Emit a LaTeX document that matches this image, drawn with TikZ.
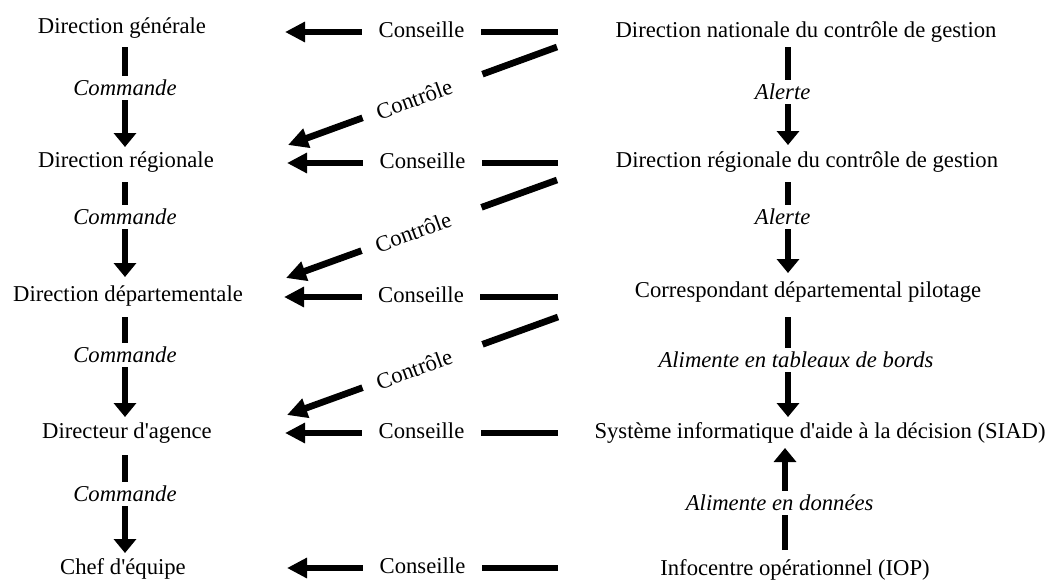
\documentclass[tikz,border=0pt]{standalone}
\usepackage{fontspec}
\setmainfont{Liberation Serif}
\usetikzlibrary{arrows.meta}

\begin{document}
\begin{tikzpicture}[x=0.75pt,y=0.75pt,yscale=-1,xscale=1,
  txt/.style={anchor=base,inner sep=0.75pt,font=\fontsize{17}{20}\selectfont},
  hflow/.style={line width=5pt,-{Triangle[length=15pt,width=14.5pt]}},
  vflow/.style={line width=4.6pt,-{Triangle[length=10.5pt,width=16.5pt]}},
  cons/.style={fill=white,inner xsep=12.5pt,inner ysep=1pt,yshift=2pt,font=\fontsize{17}{20}\selectfont},
  ctrl/.style={fill=white,rotate=20.2,inner xsep=11.25pt,inner ysep=1pt,font=\fontsize{17}{20}\selectfont},
  cmd/.style={fill=white,inner xsep=1pt,inner ysep=3pt,font=\fontsize{17}{20}\selectfont\itshape}]
\useasboundingbox (0,0) rectangle (1049,579);

% Text Node
\node[txt] (dg) at (122,33) {Direction générale};
% Text Node
\node[txt] (dr) at (126,167) {Direction régionale};
% Text Node
\node[txt] (dd) at (128,301) {Direction départementale};
% Text Node
\node[txt] (da) at (127,438) {Directeur d\textquotesingle agence};
% Text Node
\node[txt] (ce) at (123,574) {Chef d\textquotesingle équipe};

% Text Node
\node[txt] (dn) at (806,37) {Direction nationale du contrôle de gestion};
% Text Node
\node[txt] (drc) at (807,167) {Direction régionale du contrôle de gestion};
% Text Node
\node[txt] (cdp) at (808,297) {Correspondant départemental pilotage};
% Text Node
\node[txt] (siad) at (820,438) {Système informatique d\textquotesingle aide à la décision (SIAD)};
% Text Node
\node[txt] (iop) at (795,575) {Infocentre opérationnel (IOP)};

% Arrow ends
\coordinate (l1a) at (125,47);  \coordinate (l1b) at (125,147);
\coordinate (l2a) at (125,182); \coordinate (l2b) at (125,277);
\coordinate (l3a) at (125,317); \coordinate (l3b) at (125,417);
\coordinate (l4a) at (125,455); \coordinate (l4b) at (125,553);

\coordinate (r1a) at (788,47);  \coordinate (r1b) at (788,145);
\coordinate (r2a) at (788,182); \coordinate (r2b) at (788,273);
\coordinate (r3a) at (788,317); \coordinate (r3b) at (788,417);
\coordinate (r4a) at (785,550); \coordinate (r4b) at (785,448);

\coordinate (h1a) at (558,32);  \coordinate (h1b) at (285,32);
\coordinate (h2a) at (558,163); \coordinate (h2b) at (287,163);
\coordinate (h3a) at (558,297); \coordinate (h3b) at (284,297);
\coordinate (h4a) at (558,433); \coordinate (h4b) at (285,433);
\coordinate (h5a) at (558,568); \coordinate (h5b) at (287,568);

\coordinate (k1a) at (557,47);  \coordinate (k1b) at (288,145);
\coordinate (k2a) at (557,180); \coordinate (k2b) at (286,278);
\coordinate (k3a) at (558,317); \coordinate (k3b) at (287,415);

% Commande
\draw[vflow] (l1a) -- node[cmd,pos=0.41] {Commande} (l1b);
\draw[vflow] (l2a) -- node[cmd,pos=0.37] {Commande} (l2b);
\draw[vflow] (l3a) -- node[cmd,pos=0.38] {Commande} (l3b);
\draw[vflow] (l4a) -- node[cmd,pos=0.4] {Commande} (l4b);

% Alerte / Alimente
\draw[vflow] (r1a) -- node[cmd,pos=0.46,xshift=-4pt] {Alerte} (r1b);
\draw[vflow] (r2a) -- node[cmd,pos=0.38,xshift=-4pt] {Alerte} (r2b);
\draw[vflow] (r3a) -- node[cmd,pos=0.43,xshift=6pt] {Alimente en tableaux de bords} (r3b);
\draw[vflow] (r4a) -- node[cmd,pos=0.46,xshift=-4pt] {Alimente en données} (r4b);

% Conseille
\draw[hflow] (h1a) -- node[cons] {Conseille} (h1b);
\draw[hflow] (h2a) -- node[cons] {Conseille} (h2b);
\draw[hflow] (h3a) -- node[cons] {Conseille} (h3b);
\draw[hflow] (h4a) -- node[cons] {Conseille} (h4b);
\draw[hflow] (h5a) -- node[cons] {Conseille} (h5b);

% Contrôle
\draw[hflow] (k1a) -- node[ctrl,pos=0.5] {Contrôle\kern13.5pt} (k1b);
\draw[hflow] (k2a) -- node[ctrl,pos=0.5] {Contrôle\kern13.5pt} (k2b);
\draw[hflow] (k3a) -- node[ctrl,pos=0.5] {Contrôle\kern13.5pt} (k3b);

\end{tikzpicture}
\end{document}
